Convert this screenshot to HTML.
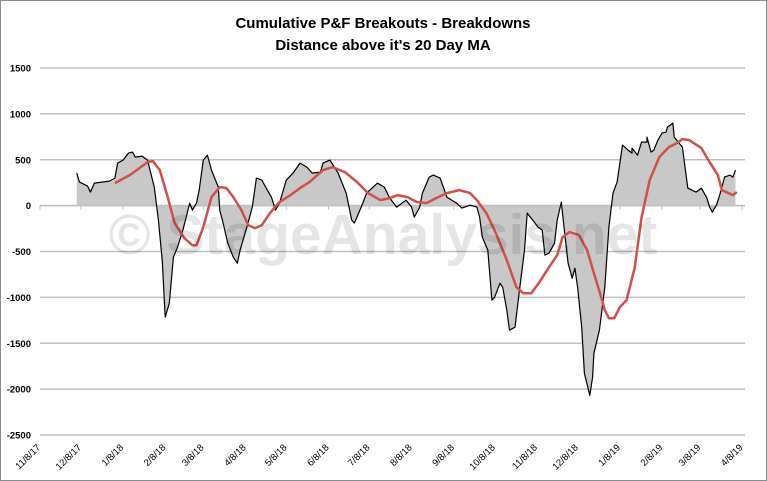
<!DOCTYPE html>
<html><head><meta charset="utf-8">
<style>
html,body{margin:0;padding:0;background:#fff;}
#wrap{position:relative;width:767px;height:481px;overflow:hidden;}
svg{display:block;font-family:"Liberation Sans",Arial,sans-serif;}
</style></head>
<body>
<div id="wrap">
<svg id="chart" width="767" height="481" viewBox="0 0 767 481">
  <rect x="0.5" y="0.5" width="766" height="480" fill="#fff" stroke="#8c8c8c"/>
  <text x="383" y="28" text-anchor="middle" font-size="15" font-weight="bold" fill="#000">Cumulative P&amp;F Breakouts - Breakdowns</text>
  <text x="383" y="50" text-anchor="middle" font-size="15" font-weight="bold" fill="#000">Distance above it's 20 Day MA</text>
  <g id="grid"></g>
  <g id="yaxis"></g>
  <g id="marks"></g>
  <text x="383" y="254" text-anchor="middle" font-size="57" font-weight="bold" fill="#000" fill-opacity="0.1">© StageAnalysis.net</text>
  <g id="xaxis"></g>
</svg>
</div>
<script>
// Data: day offsets since 11/8/17 and values
const lineDays = [27,29,35,37,40,51,55,57,61,65,68,70,75,79,84,87,90,90,92,95,98,101,105,110,112,115,117,120,123,126,131,132,134,138,142,145,147,152,156,159,163,167,170,173,176,181,186,191,196,200,206,208,213,219,225,229,231,236,240,248,253,257,262,266,269,273,275,279,281,286,289,294,299,306,310,316,321,323,325,329,332,334,338,340,343,345,349,352,356,358,362,366,369,371,374,378,380,383,385,388,391,393,395,398,400,404,406,407,411,415,418,421,424,428,432,435,435,439,442,446,446,449,451,454,457,460,461,465,466,472,476,482,486,490,492,494,497,499,503,507,509,511];
const lineValues = [354,256,213,147,245,267,300,463,496,572,583,529,540,496,202,-158,-627,-649,-1216,-1063,-562,-453,-267,27,-49,27,169,496,551,387,202,-49,-158,-409,-562,-627,-485,-234,-16,300,278,169,93,-49,27,278,354,463,420,354,365,463,496,354,136,-158,-191,-16,136,245,202,82,-16,27,60,-16,-125,-16,136,311,333,300,93,27,-27,5,-16,-125,-343,-485,-1030,-998,-845,-889,-1140,-1358,-1325,-954,-485,-82,-158,-234,-267,-540,-518,-409,-158,38,-234,-627,-791,-682,-889,-1325,-1827,-2067,-1870,-1609,-1358,-889,-234,136,256,660,605,572,627,551,692,692,747,583,605,714,790,801,856,899,747,638,191,147,191,82,-16,-71,5,93,311,333,311,387];
const maDays = [55,66,73,79,83,88,93,99,106,112,115,120,126,132,137,142,148,153,158,163,169,176,184,191,198,208,215,224,233,241,250,257,263,270,277,284,291,299,308,316,321,328,335,343,350,355,361,367,374,380,384,389,396,402,407,413,415,418,422,426,431,437,442,448,455,462,468,472,477,486,492,498,501,509,512];
const maValues = [245,333,409,474,485,387,136,-191,-354,-431,-431,-234,93,202,191,93,-49,-213,-245,-213,-82,38,115,191,256,387,420,365,256,136,60,82,115,93,38,27,82,136,169,136,60,-82,-300,-594,-889,-954,-954,-834,-671,-540,-343,-289,-321,-485,-736,-1030,-1140,-1227,-1227,-1107,-1030,-671,-125,278,529,638,681,725,714,627,474,333,169,115,147,169];
const yTicks = [1500,1000,500,0,-500,-1000,-1500,-2000,-2500];
const xTickLabels = ["11/8/17","12/8/17","1/8/18","2/8/18","3/8/18","4/8/18","5/8/18","6/8/18","7/8/18","8/8/18","9/8/18","10/8/18","11/8/18","12/8/18","1/8/19","2/8/19","3/8/19","4/8/19"];
const xTickDays = [0,30,61,92,120,151,181,212,242,273,304,334,365,395,426,457,485,516];

const NS="http://www.w3.org/2000/svg";
const X0=40, X1=745, Y0=68, Y1=435, DMAX=518;
const x = d => X0 + d*(X1-X0)/DMAX;
const y = v => Y0 + (1500 - v)*(Y1-Y0)/4000;
function mk(tag, attrs, parent){const e=document.createElementNS(NS,tag);for(const k in attrs)e.setAttribute(k,attrs[k]);parent.appendChild(e);return e;}

const grid=document.getElementById('grid'), ya=document.getElementById('yaxis'), xa=document.getElementById('xaxis'), marks=document.getElementById('marks');
yTicks.forEach(t=>{
  const l=mk('line',{x1:X0,x2:X1,y1:y(t),y2:y(t),stroke:'#bfbfbf','stroke-width':1.5},grid);
  
  
  const tx=mk('text',{x:31,y:y(t)+3.5,'text-anchor':'end','font-size':9.5,'font-weight':'bold',fill:'#000'},ya);
  tx.textContent=t;
  
  
});

let dA='M'+x(lineDays[0])+','+y(0);
lineDays.forEach((d,i)=>{dA+=' L'+x(d).toFixed(1)+','+y(lineValues[i]).toFixed(1);});
dA+=' L'+x(lineDays[lineDays.length-1])+','+y(0)+' Z';
const area=mk('path',{d:dA,fill:'#c8c8c8',stroke:'none'},marks);



const zl=mk('line',{x1:X0,x2:X1,y1:y(0),y2:y(0),stroke:'#bfbfbf','stroke-width':1.5},marks);


xTickDays.forEach((d,i)=>{
  const tk=mk('line',{x1:x(d),x2:x(d),y1:y(0),y2:y(0)+4,stroke:'#bfbfbf','stroke-width':1},marks);
  
  
  const tx=mk('text',{x:0,y:0,'text-anchor':'end','font-size':9.5,fill:'#000',transform:'translate('+(x(d)+1)+','+(y(-2500)+13)+') rotate(-45)'},xa);
  tx.textContent=xTickLabels[i];
  
  
});

let dL='';
lineDays.forEach((d,i)=>{dL+=(i?' L':'M')+x(d).toFixed(1)+','+y(lineValues[i]).toFixed(1);});
const bl=mk('path',{d:dL,fill:'none',stroke:'#000','stroke-width':1.2,'stroke-linejoin':'round'},marks);



let dM='';
maDays.forEach((d,i)=>{dM+=(i?' L':'M')+x(d).toFixed(1)+','+y(maValues[i]).toFixed(1);});
const ml=mk('path',{d:dM,fill:'none',stroke:'#d0504a','stroke-width':2.5,'stroke-linejoin':'round'},marks);


</script>
</body></html>
